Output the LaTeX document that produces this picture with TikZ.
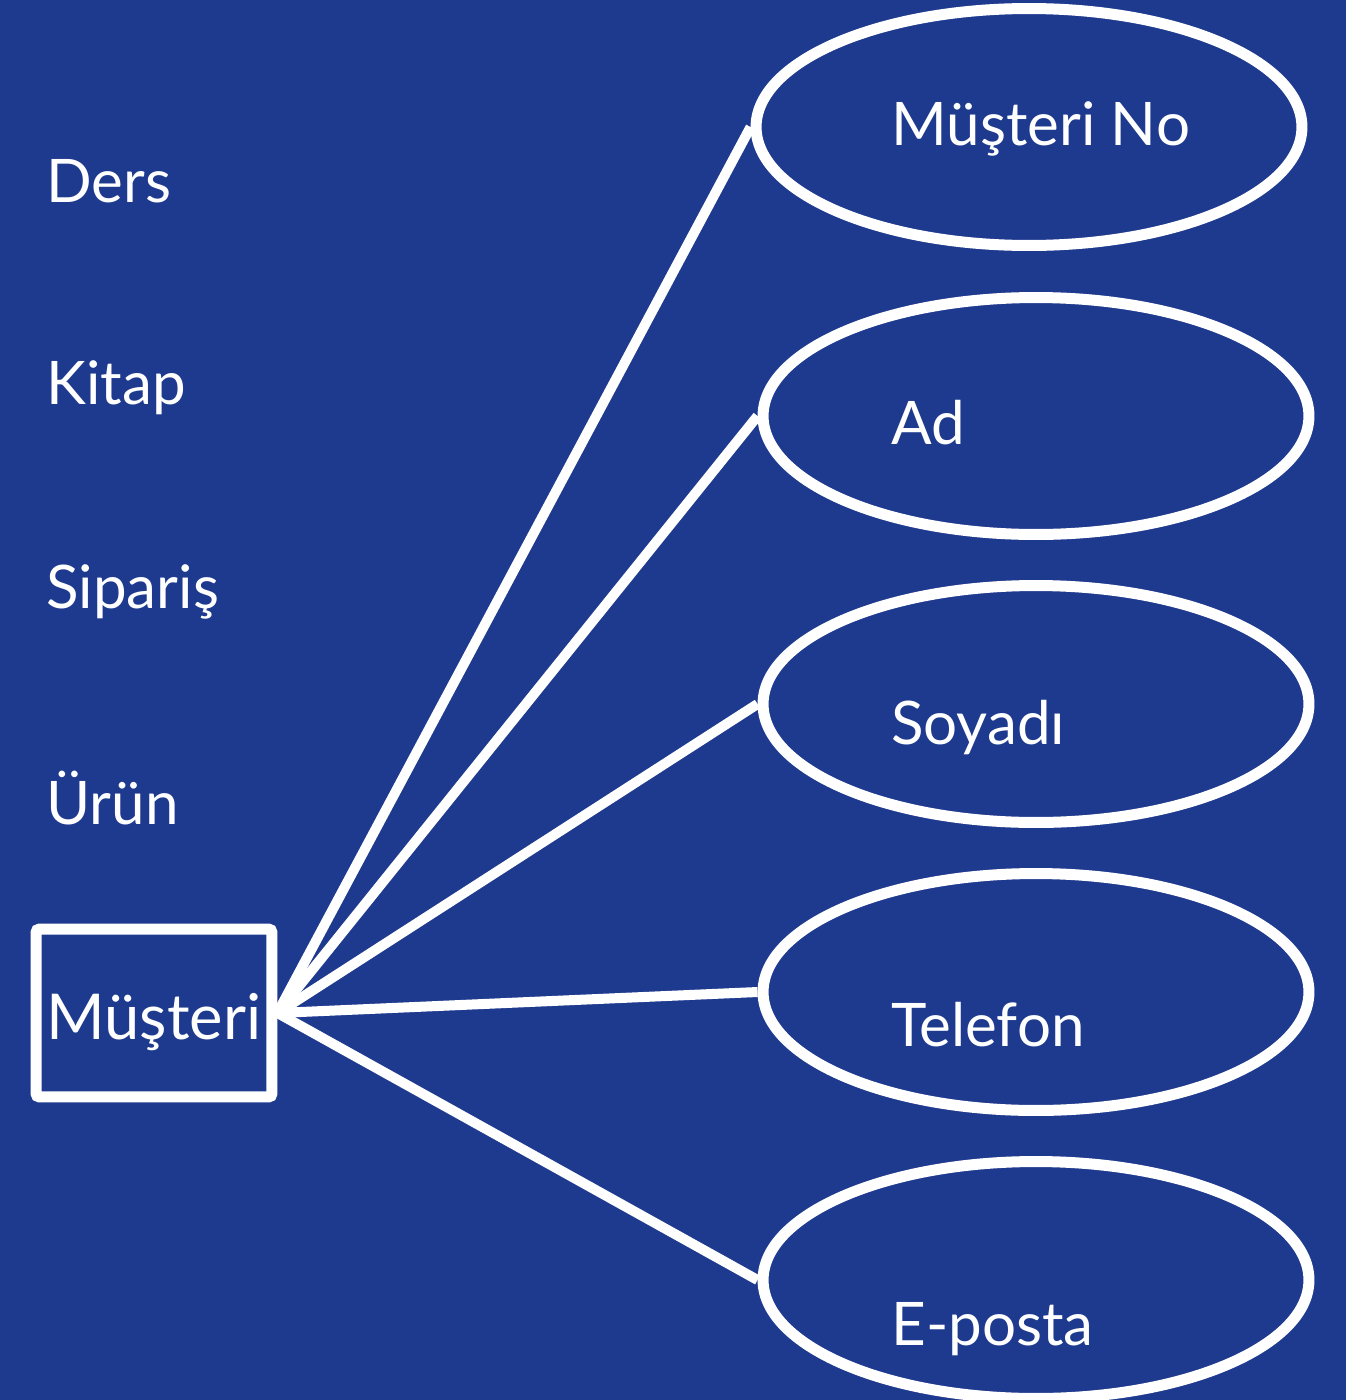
\documentclass[tikz,border=0pt]{standalone}
\usepackage{fontspec}
\setmainfont{Lato}
\usepackage{tikz}
\usetikzlibrary{shapes.geometric,positioning}
\definecolor{bgblue}{RGB}{30,58,143}
\tikzset{
    x=0.02cm,y=-0.02cm,
    every node/.style={text=white,font=\fontsize{34.2}{41}\selectfont},
    entity/.style={rectangle,draw=white,line width=0.22cm,rounded corners=2pt,
        minimum width=4.72cm,minimum height=3.36cm,inner sep=0pt},
    attr/.style={ellipse,draw=white,line width=0.22cm,
        minimum width=10.92cm,minimum height=4.74cm},
    word/.style={anchor=base west,inner sep=0pt},
    link/.style={draw=white,line width=0.2cm}
}

\begin{document}
\begin{tikzpicture}
    \fill[bgblue] (0,0) rectangle (1346,1400);
    \useasboundingbox (0,0) rectangle (1346,1400);

    % left column
    \node[word] (ders) at (46,202) {Ders};
    \node[word] (kitap) at (46,404) {Kitap};
    \node[word] (siparis) at (46,608) {Sipariş};
    \node[word] (urun) at (46,824) {Ürün};
    \node[entity] (m) at (154,1013) {};
    \node[word,font=\fontsize{36}{43}\selectfont] (mt) at (46,1039) {Müşteri};

    % attributes
    \node[attr] (1) at (1029,127) {};
    \node[attr] (2) at (1036,416) {};
    \node[attr] (3) at (1036,704) {};
    \node[attr] (4) at (1036,992) {};
    \node[attr] (5) at (1036,1280) {};
    \node[word] (t1) at (891,145) {Müşteri No};
    \node[word] (t2) at (891,444) {Ad};
    \node[word] (t3) at (891,744) {Soyadı};
    \node[word] (t4) at (891,1046) {Telefon};
    \node[word] (t5) at (891,1345) {E-posta};

    \foreach \i in {1,...,5}
        \draw[link] (m.east) -- (\i.west);
\end{tikzpicture}
\end{document}
